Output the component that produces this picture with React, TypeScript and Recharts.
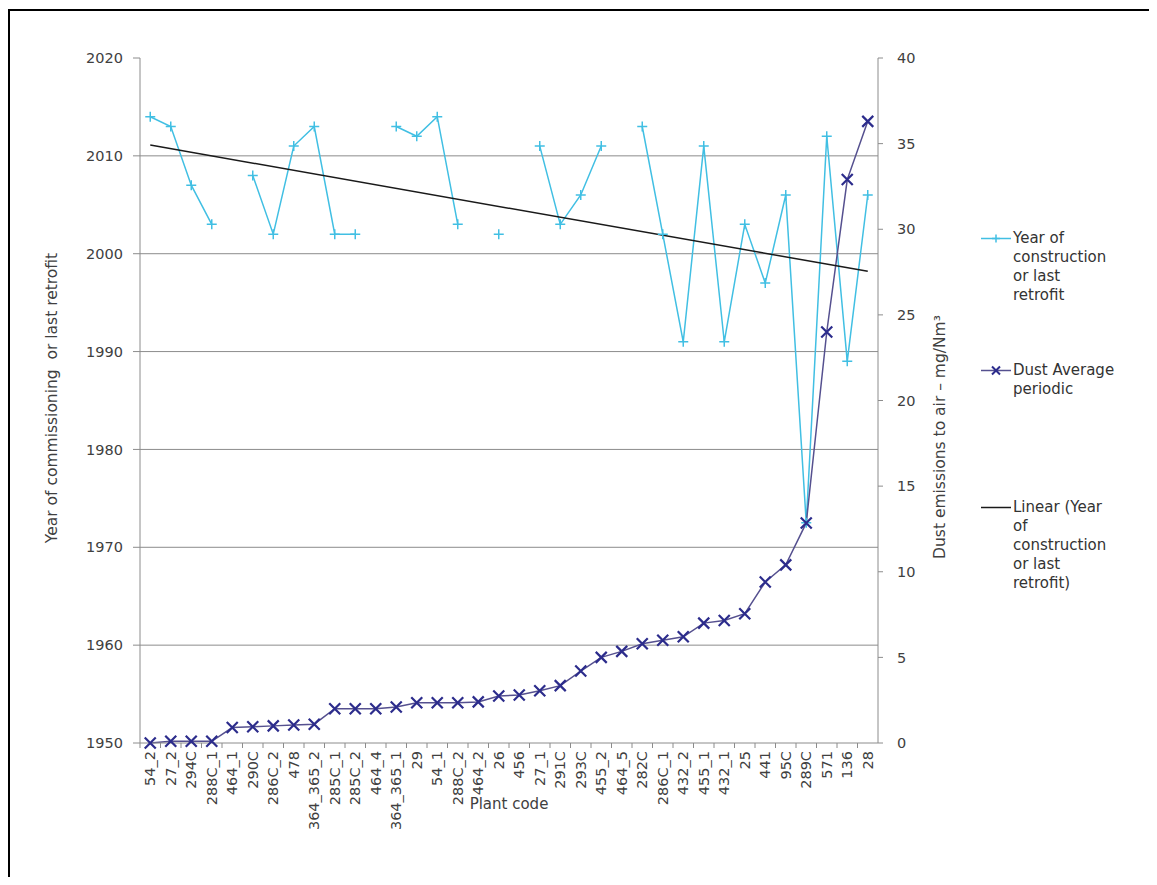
import { LineChart, Line, XAxis, YAxis, CartesianGrid } from "recharts";

// plant codes along the x axis
const categories = [
  "54_2", "27_2", "294C", "288C_1", "464_1", "290C", "286C_2", "478",
  "364_365_2", "285C_1", "285C_2", "464_4", "364_365_1", "29", "54_1",
  "288C_2", "464_2", "26", "456", "27_1", "291C", "293C", "455_2", "464_5",
  "282C", "286C_1", "432_2", "455_1", "432_1", "25", "441", "95C", "289C",
  "571", "136", "28",
];

// year of construction or last retrofit (left axis), null = no value
const yearValues = [
  2014, 2013, 2007, 2003, null, 2008, 2002, 2011, 2013, 2002, 2002, null,
  2013, 2012, 2014, 2003, null, 2002, null, 2011, 2003, 2006, 2011, null,
  2013, 2002, 1991, 2011, 1991, 2003, 1997, 2006, 1972.5, 2012, 1989, 2006,
];

// dust average periodic, mg/Nm3 (right axis)
const dustValues = [
  0.0, 0.1, 0.1, 0.1, 0.9, 0.95, 1.0, 1.05, 1.1, 2.0, 2.0, 2.0, 2.1, 2.35,
  2.35, 2.35, 2.4, 2.75, 2.8, 3.05, 3.35, 4.2, 5.0, 5.35, 5.8, 6.0, 6.2, 7.0,
  7.15, 7.55, 9.4, 10.4, 12.85, 24.0, 32.9, 36.3,
];

// linear trend of the year series, read at its two ends
const trendStart = 2011.1;
const trendEnd = 1998.2;

const yearTicks = [1950, 1960, 1970, 1980, 1990, 2000, 2010, 2020];
const dustTicks = [0, 5, 10, 15, 20, 25, 30, 35, 40];

const YEAR_COLOR = "#41bfe3";
const DUST_COLOR = "#2c2c8c";
const DUST_LINE = "#55508f";
const AXIS_COLOR = "#8c8c8c";
const TEXT_COLOR = "#404040";
const FONT = "'DejaVu Sans', Verdana, sans-serif";

const W = 1141;
const H = 869;
const M = { top: 50, right: 211, bottom: 34, left: 72 };
const Y_W = 60;
const X_H = 100;
const plotW = W - M.left - M.right - 2 * Y_W;
const plotH = H - M.top - M.bottom - X_H;
const STEP = plotW / categories.length;

const gridPoints = yearTicks
  .slice(1, -1)
  .map((v) => M.top + ((2020 - v) / 70) * plotH);

const chartData = categories.map((name, i) => ({
  name,
  year: yearValues[i],
  dust: dustValues[i],
  trend: i === 0 ? trendStart : i === categories.length - 1 ? trendEnd : null,
}));

const PlusDot = (props: any) => {
  const { cx, cy, value, index } = props;
  if (cx == null || cy == null || value == null) return <g key={`p${index}`} />;
  return (
    <path
      key={`p${index}`}
      d={`M${cx - 5},${cy}H${cx + 5}M${cx},${cy - 5}V${cy + 5}`}
      stroke={YEAR_COLOR}
      strokeWidth={1.5}
      fill="none"
    />
  );
};

const CrossDot = (props: any) => {
  const { cx, cy, value, index } = props;
  if (cx == null || cy == null || value == null) return <g key={`x${index}`} />;
  const s = 5.5;
  return (
    <path
      key={`x${index}`}
      d={`M${cx - s},${cy - s}L${cx + s},${cy + s}M${cx - s},${cy + s}L${cx + s},${cy - s}`}
      stroke={DUST_COLOR}
      strokeWidth={2.2}
      fill="none"
    />
  );
};

const PlantTick = (props: any) => {
  const { x, y, payload } = props;
  const bx = x - STEP / 2;
  return (
    <g>
      <line x1={bx} y1={y - 7} x2={bx} y2={y - 2} stroke={AXIS_COLOR} />
      <text
        x={x}
        y={y + 1}
        transform={`rotate(-90 ${x} ${y + 1})`}
        textAnchor="end"
        dy="0.35em"
        fontSize={14.5}
        fill={TEXT_COLOR}
        fontFamily={FONT}
      >
        {payload.value}
      </text>
    </g>
  );
};

const SideTitle = (props: any) => {
  const { viewBox, text, dx, cy } = props;
  if (!viewBox) return null;
  const x = viewBox.x + dx;
  return (
    <text
      x={x}
      y={cy}
      transform={`rotate(-90 ${x} ${cy})`}
      textAnchor="middle"
      dominantBaseline="central"
      fontSize={15.5}
      fill={TEXT_COLOR}
      fontFamily={FONT}
      style={{ whiteSpace: "pre" }}
    >
      {text}
    </text>
  );
};

const legendItems = [
  { lines: ["Year of", "construction", "or last", "retrofit"], kind: "plus", center: 230 },
  { lines: ["Dust Average", "periodic"], kind: "cross", center: 362 },
  { lines: ["Linear (Year", "of", "construction", "or last", "retrofit)"], kind: "line", center: 499 },
];

function Swatch({ kind }: { kind: string }) {
  return (
    <svg width={33} height={19} style={{ flex: "none" }}>
      {kind === "plus" && (
        <>
          <line x1={1} y1={9.5} x2={31} y2={9.5} stroke={YEAR_COLOR} strokeWidth={1.5} />
          <path d="M12,9.5H20M16,5.5V13.5" stroke={YEAR_COLOR} strokeWidth={1.5} />
        </>
      )}
      {kind === "cross" && (
        <>
          <line x1={1} y1={9.5} x2={31} y2={9.5} stroke={DUST_LINE} strokeWidth={1.5} />
          <path d="M12,5.5L20,13.5M12,13.5L20,5.5" stroke={DUST_COLOR} strokeWidth={2} />
        </>
      )}
      {kind === "line" && (
        <line x1={1} y1={9.5} x2={31} y2={9.5} stroke="#1a1a1a" strokeWidth={1.5} />
      )}
    </svg>
  );
}

export default function App() {
  return (
    <div style={{ position: "relative", width: W, height: H, fontFamily: FONT }}>
      <div
        style={{
          position: "absolute",
          left: 0,
          top: 1,
          width: 1300,
          height: 1000,
          borderTop: "2px solid #000",
          borderLeft: "2px solid #000",
          pointerEvents: "none",
        }}
      />
      <LineChart
        width={W}
        height={H}
        data={chartData}
        margin={M}
        style={{ position: "absolute", left: 0, top: 0 }}
      >
        <CartesianGrid
          yAxisId="left"
          vertical={false}
          horizontalPoints={gridPoints}
          stroke={AXIS_COLOR}
          strokeWidth={1}
        />
        <XAxis
          dataKey="name"
          interval={0}
          height={X_H}
          padding={{ left: STEP / 2, right: STEP / 2 }}
          tick={<PlantTick />}
          tickLine={false}
          tickSize={5}
          tickMargin={2}
          axisLine={{ stroke: AXIS_COLOR }}
          label={{
            value: "Plant code",
            position: "insideBottom",
            offset: 34,
            fontSize: 15,
            fill: TEXT_COLOR,
            fontFamily: FONT,
          }}
        />
        <YAxis
          yAxisId="left"
          width={Y_W}
          domain={[1950, 2020]}
          ticks={yearTicks}
          tickSize={7}
          tickMargin={10}
          axisLine={{ stroke: AXIS_COLOR }}
          tickLine={{ stroke: AXIS_COLOR }}
          tick={{ fontSize: 14.5, fill: TEXT_COLOR, fontFamily: FONT }}
          label={<SideTitle text="Year of commissioning  or last retrofit" dx={-28} cy={390} />}
        />
        <YAxis
          yAxisId="right"
          orientation="right"
          width={Y_W}
          domain={[0, 40]}
          ticks={dustTicks}
          tickSize={5}
          tickMargin={14}
          axisLine={{ stroke: AXIS_COLOR }}
          tickLine={{ stroke: AXIS_COLOR }}
          tick={{ fontSize: 14.5, fill: TEXT_COLOR, fontFamily: FONT }}
          label={<SideTitle text="Dust emissions to air – mg/Nm³" dx={62} cy={429} />}
        />
        <Line
          yAxisId="left"
          dataKey="year"
          type="linear"
          stroke={YEAR_COLOR}
          strokeWidth={1.5}
          dot={PlusDot}
          activeDot={false}
          isAnimationActive={false}
        />
        <Line
          yAxisId="right"
          dataKey="dust"
          type="linear"
          stroke={DUST_LINE}
          strokeWidth={1.5}
          dot={CrossDot}
          activeDot={false}
          isAnimationActive={false}
        />
        <Line
          yAxisId="left"
          dataKey="trend"
          type="linear"
          stroke="#1a1a1a"
          strokeWidth={1.5}
          dot={false}
          activeDot={false}
          connectNulls
          isAnimationActive={false}
        />
      </LineChart>
      {legendItems.map((item) => (
        <div
          key={item.kind}
          style={{
            position: "absolute",
            left: 972,
            top: item.center - 9.5,
            display: "flex",
            alignItems: "flex-start",
            fontSize: 15,
            lineHeight: "19px",
            color: "#333",
          }}
        >
          <Swatch kind={item.kind} />
          <div>
            {item.lines.map((l) => (
              <div key={l}>{l}</div>
            ))}
          </div>
        </div>
      ))}
    </div>
  );
}
